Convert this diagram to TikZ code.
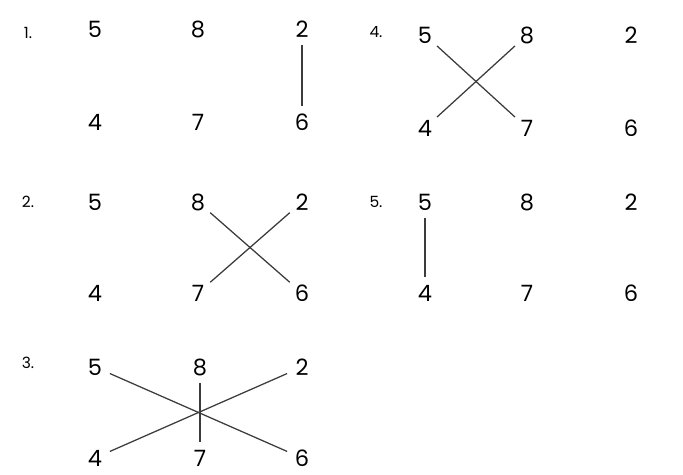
\documentclass[tikz,border=0pt]{standalone}
\usepackage{fontspec}
\setmainfont{Poppins}
\definecolor{ink}{HTML}{3C3C3C}
\tikzstyle{digit}=[circle, minimum size=0.8cm, inner sep=0pt, font=\fontsize{16}{18}\selectfont]
\tikzstyle{panel label}=[inner sep=0pt, font=\fontsize{11}{13}\selectfont]
\tikzstyle{link}=[draw=ink, line width=0.9pt]

\begin{document}
\begin{tikzpicture}
      \useasboundingbox (0, 0) rectangle (17.075, 11.875);

      % 1.
      \node[panel label] (l1) at (0.7, 11.05) {1.};
      \node[digit] (a5) at (2.375, 11.15) {5};
      \node[digit] (a8) at (4.95, 11.15) {8};
      \node[digit] (a2) at (7.55, 11.15) {2};
      \node[digit] (a4) at (2.375, 8.825) {4};
      \node[digit] (a7) at (4.95, 8.825) {7};
      \node[digit] (a6) at (7.55, 8.825) {6};
      \draw[link] (a2) -- (a6);

      % 2.
      \node[panel label] (l2) at (0.7, 6.825) {2.};
      \node[digit] (b5) at (2.375, 6.825) {5};
      \node[digit] (b8) at (4.95, 6.825) {8};
      \node[digit] (b2) at (7.55, 6.825) {2};
      \node[digit] (b4) at (2.375, 4.55) {4};
      \node[digit] (b7) at (4.95, 4.55) {7};
      \node[digit] (b6) at (7.55, 4.55) {6};
      \draw[link] (b8) -- (b6);
      \draw[link] (b2) -- (b7);

      % 3.
      \node[panel label] (l3) at (0.7, 2.8) {3.};
      \node[digit] (c5) at (2.375, 2.7) {5};
      \node[digit] (c8) at (5.0, 2.7) {8};
      \node[digit] (c2) at (7.55, 2.7) {2};
      \node[digit] (c4) at (2.375, 0.425) {4};
      \node[digit] (c7) at (5.0, 0.425) {7};
      \node[digit] (c6) at (7.55, 0.425) {6};
      \draw[link] (c5) -- (c6);
      \draw[link] (c4) -- (c2);
      \draw[link] (c8) -- (c7);

      % 4.
      \node[panel label] (l4) at (9.4, 11.075) {4.};
      \node[digit] (d5) at (10.625, 11.0) {5};
      \node[digit] (d8) at (13.175, 11.0) {8};
      \node[digit] (d2) at (15.775, 11.0) {2};
      \node[digit] (d4) at (10.625, 8.675) {4};
      \node[digit] (d7) at (13.175, 8.675) {7};
      \node[digit] (d6) at (15.775, 8.675) {6};
      \draw[link] (d5) -- (d7);
      \draw[link] (d8) -- (d4);

      % 5.
      \node[panel label] (l5) at (9.4, 6.825) {5.};
      \node[digit] (e5) at (10.625, 6.825) {5};
      \node[digit] (e8) at (13.175, 6.825) {8};
      \node[digit] (e2) at (15.775, 6.825) {2};
      \node[digit] (e4) at (10.625, 4.55) {4};
      \node[digit] (e7) at (13.175, 4.55) {7};
      \node[digit] (e6) at (15.775, 4.55) {6};
      \draw[link] (e5) -- (e4);
    \end{tikzpicture}
\end{document}
